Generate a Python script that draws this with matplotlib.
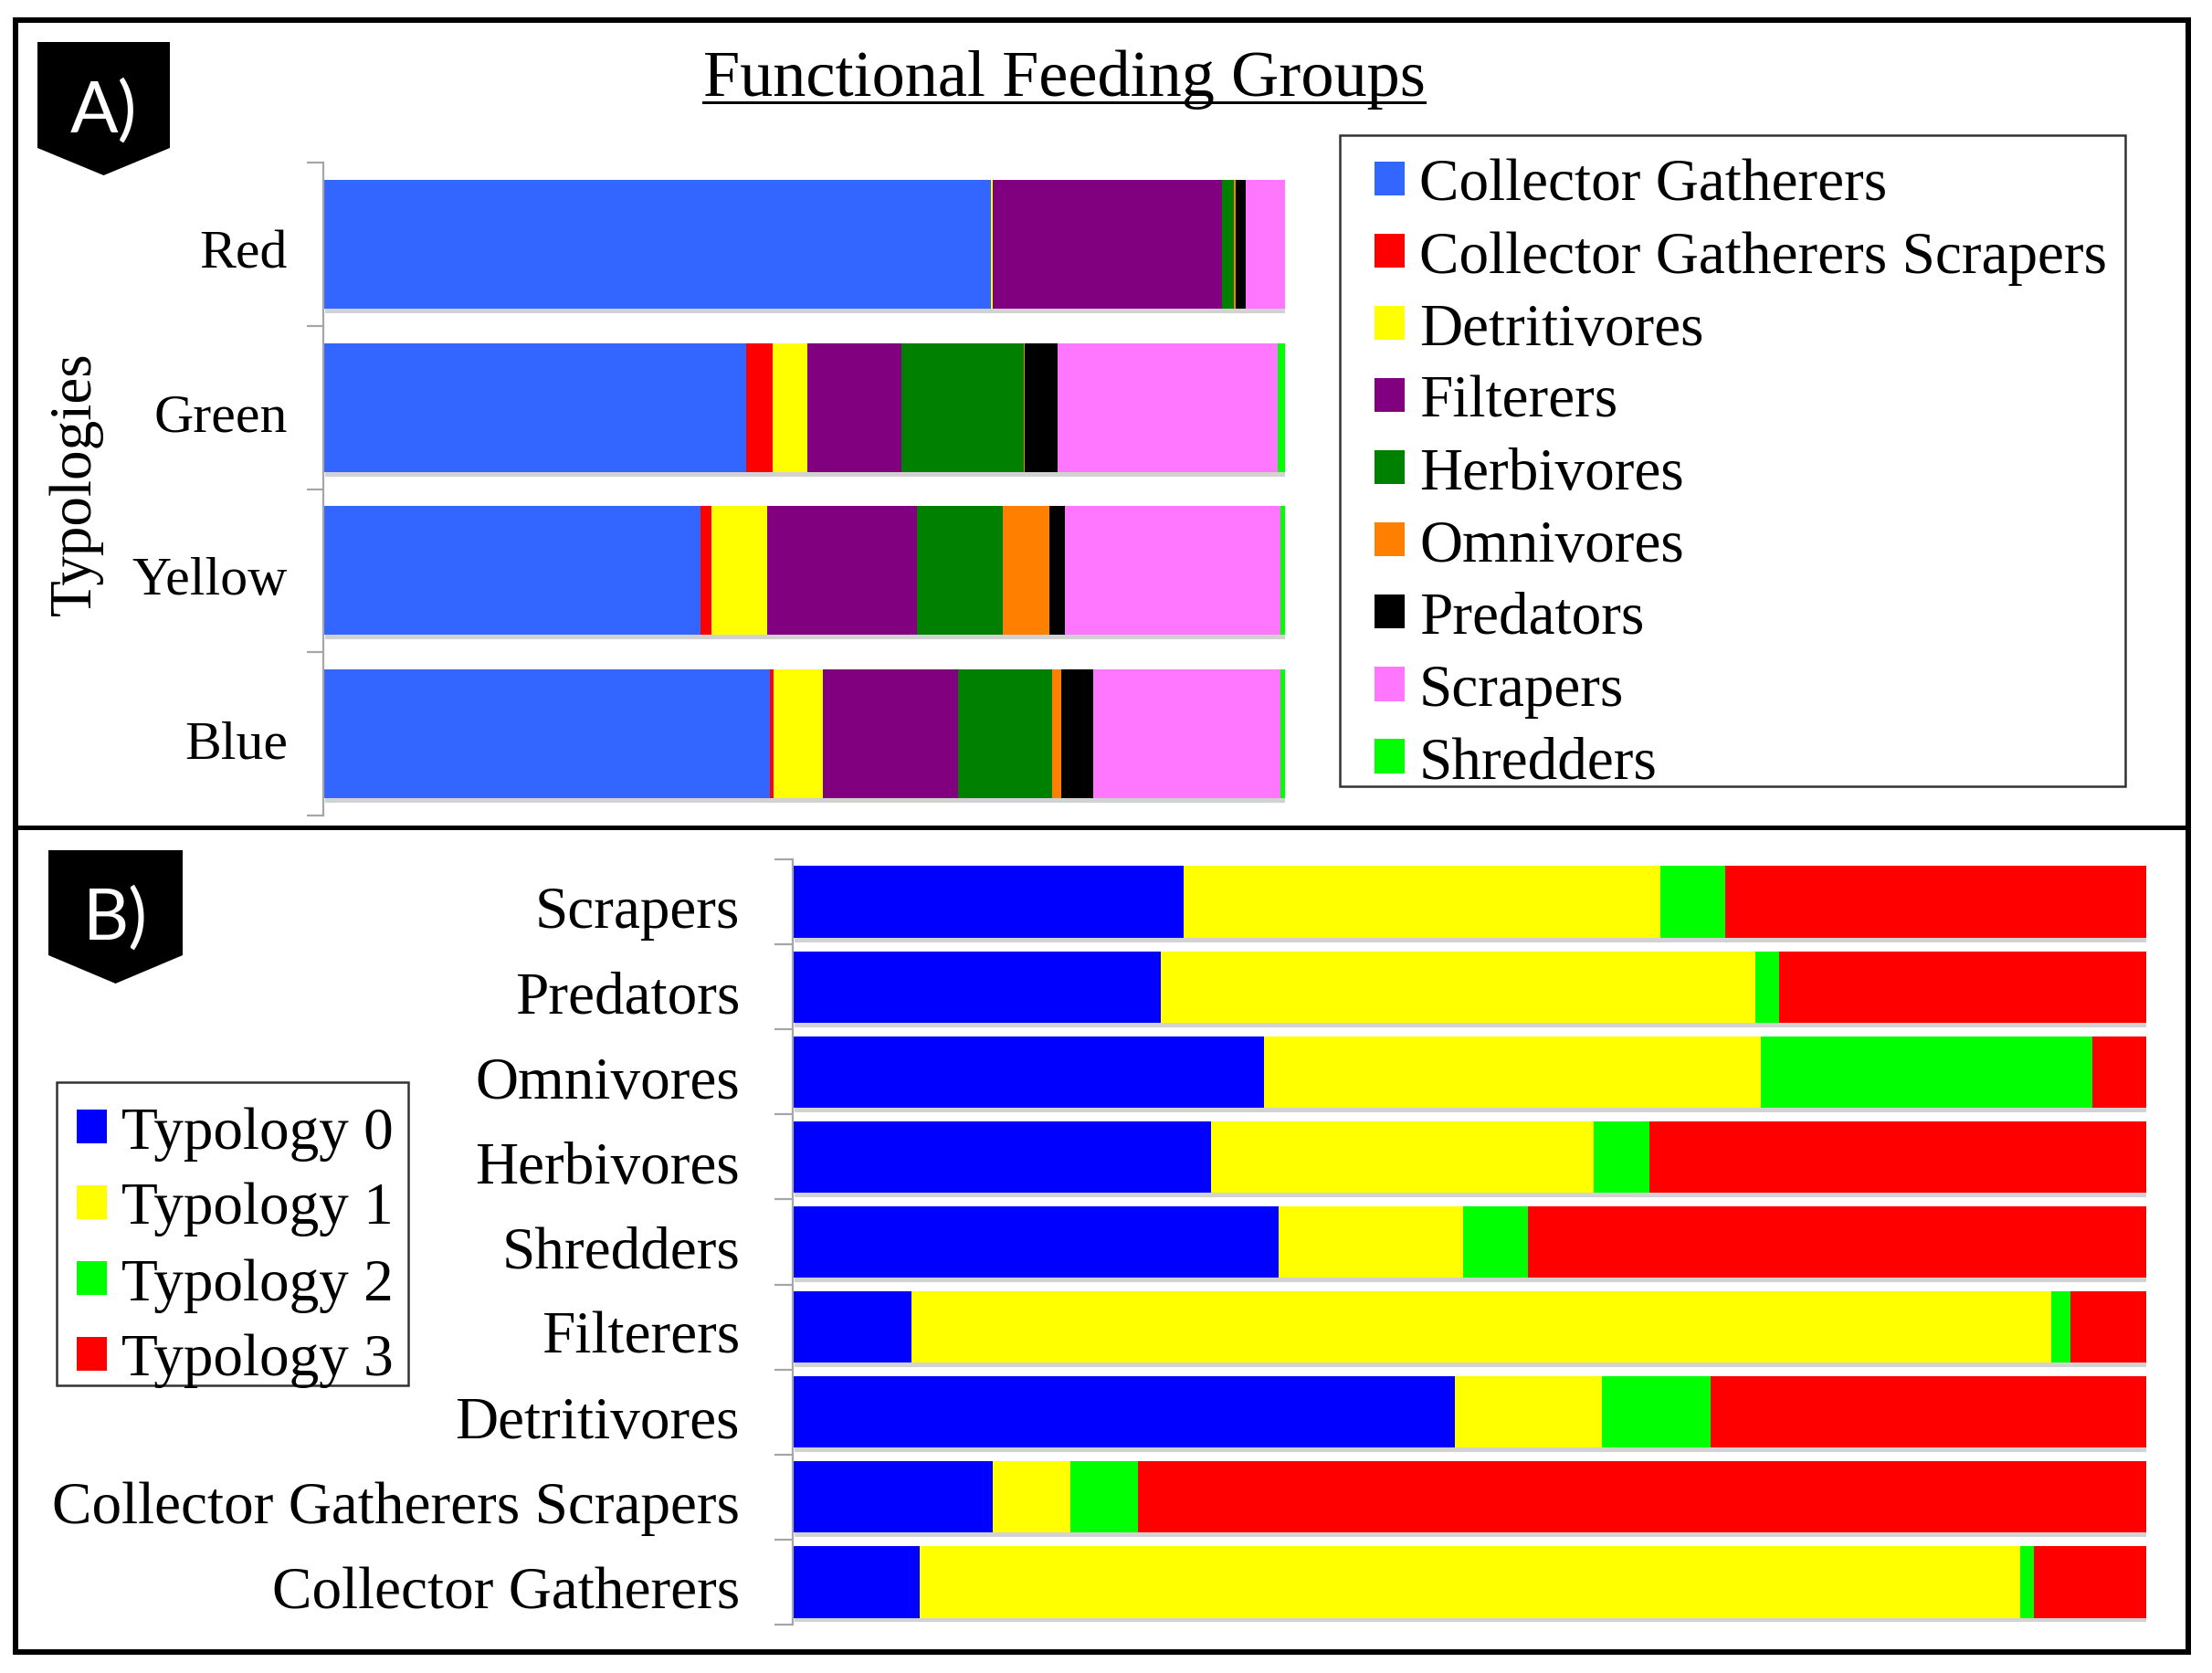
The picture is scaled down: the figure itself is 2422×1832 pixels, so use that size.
import numpy as np
import matplotlib
matplotlib.use("Agg")
import matplotlib.pyplot as plt
import matplotlib.patheffects as pe
from matplotlib.patches import Polygon, Rectangle
from matplotlib.lines import Line2D
from matplotlib.transforms import ScaledTranslation

# ---- data (percent of each bar) ----
typologies = ["Red", "Green", "Yellow", "Blue"]
feeding_groups = ["Collector Gatherers", "Collector Gatherers Scrapers", "Detritivores",
                  "Filterers", "Herbivores", "Omnivores", "Predators", "Scrapers", "Shredders"]
group_colors = ["#3366FF", "#FF0000", "#FFFF00", "#800080", "#008000",
                "#FF8000", "#000000", "#FF77FF", "#00FF00"]
ffg_share = {
    "Red":    [69.4, 0.0, 0.2, 23.8, 1.3, 0.2, 1.0, 4.1, 0.0],
    "Green":  [44.0, 2.7, 3.6, 9.8, 12.7, 0.1, 3.5, 22.8, 0.8],
    "Yellow": [39.2, 1.2, 5.8, 15.5, 9.0, 4.8, 1.6, 22.4, 0.5],
    "Blue":   [46.4, 0.4, 5.1, 14.1, 9.8, 0.9, 3.4, 19.4, 0.5],
}

b_groups = ["Scrapers", "Predators", "Omnivores", "Herbivores", "Shredders", "Filterers",
            "Detritivores", "Collector Gatherers Scrapers", "Collector Gatherers"]
typology_names = ["Typology 0", "Typology 1", "Typology 2", "Typology 3"]
typology_colors = ["#0000FF", "#FFFF00", "#00FF00", "#FF0000"]
typ0 = [28.9, 27.2, 34.8, 30.9, 35.9, 8.8, 48.9, 14.8, 9.4]
typ1 = [35.2, 43.9, 36.7, 28.3, 13.6, 84.2, 10.9, 5.7, 81.3]
typ2 = [4.8, 1.8, 24.5, 4.1, 4.8, 1.4, 8.0, 5.0, 1.0]
typ3 = [31.1, 27.1, 4.0, 36.7, 45.7, 5.6, 32.2, 74.5, 8.3]

W, H, DPI = 2422, 1833, 100
SERIF = "Liberation Serif"
GRAY = "#A6A6A6"


def fx(px):
    return px / W


def fy(py):
    return 1 - py / H


def pt(px):
    return px * 72 / DPI


shadow = [pe.SimplePatchShadow(offset=(1.5, -3.5), shadow_rgbFace="#7f7f7f", alpha=0.35),
          pe.Normal()]

fig = plt.figure(figsize=(W / DPI, H / DPI), dpi=DPI)
fig.patch.set_facecolor("white")


def style_axis(ax, labels, fontsize, tick_len, pad):
    n = len(labels)
    ax.set_xlim(0, 100)
    ax.set_ylim(n - 0.5, -0.5)
    ax.set_yticks(np.arange(n))
    ax.set_yticklabels(labels, fontsize=fontsize, family=SERIF)
    ax.set_yticks(np.arange(-0.5, n), minor=True)
    ax.tick_params(axis="y", which="major", length=0, pad=pad)
    ax.tick_params(axis="y", which="minor", length=pt(tick_len), width=pt(2.2), color=GRAY)
    ax.xaxis.set_visible(False)
    for s in ["top", "right", "bottom"]:
        ax.spines[s].set_visible(False)
    ax.spines["left"].set_color(GRAY)
    ax.spines["left"].set_linewidth(pt(2.2))
    ax.set_facecolor("none")
    # nudge labels down a little, like the original
    shift = ScaledTranslation(0, -5 / DPI, fig.dpi_scale_trans)
    for lab in ax.get_yticklabels():
        lab.set_transform(lab.get_transform() + shift)


def make_legend(handles, labels, frame, x0, ytop, size, spacing):
    # entries placed at (x0, ytop); the box is drawn separately so its padding can differ per side
    leg = fig.legend(handles, labels, loc="upper left",
                     bbox_to_anchor=(fx(x0), fy(ytop)),
                     borderaxespad=0, prop={"family": SERIF, "size": size},
                     handlelength=0.5, handleheight=0.5, handletextpad=0.25,
                     labelspacing=spacing, borderpad=0, frameon=False)
    for h in leg.legend_handles:
        h.set_path_effects([])
    fx0, fy0, fx1, fy1 = frame
    fig.patches.append(Rectangle((fx(fx0), fy(fy1)), fx(fx1) - fx(fx0), (fy1 - fy0) / H,
                                 fill=False, edgecolor="#333333", linewidth=pt(2.5),
                                 transform=fig.transFigure))
    return leg


# ---- Panel A ----
axA = fig.add_axes([fx(354), fy(894), fx(1407) - fx(354), (894 - 179) / H])
ya = np.arange(len(typologies))
left = np.zeros(len(typologies))
for gi, (name, col) in enumerate(zip(feeding_groups, group_colors)):
    vals = np.array([ffg_share[t][gi] for t in typologies])
    axA.barh(ya, vals, left=left, height=0.79, color=col, label=name,
             linewidth=0, path_effects=shadow)
    left += vals
style_axis(axA, typologies, 43, 18, pt(39))

fig.text(fx(83), fy(530), "Typologies", rotation=90, ha="center", va="center",
         fontsize=47, family=SERIF)

title = fig.text(fx(1165), fy(105), "Functional Feeding Groups", ha="center",
                 va="baseline", fontsize=52, family=SERIF)

hA, lA = axA.get_legend_handles_labels()
make_legend(hA, lA, (1467, 149, 2327, 862), 1505, 174, 47, 0.3)

# ---- Panel B ----
axB = fig.add_axes([fx(868), fy(1780), fx(2350) - fx(868), (1780 - 942) / H])
yb = np.arange(len(b_groups))
left = np.zeros(len(b_groups))
for vals, name, col in zip([typ0, typ1, typ2, typ3], typology_names, typology_colors):
    vals = np.array(vals)
    axB.barh(yb, vals, left=left, height=0.84, color=col, label=name,
             linewidth=0, path_effects=shadow)
    left += vals
style_axis(axB, b_groups, 47, 20, pt(58))

hB, lB = axB.get_legend_handles_labels()
make_legend(hB, lB, (62, 1186, 447, 1518), 84, 1212, 47, 0.36)

# ---- panel badges ----
for (x0, x1, ytop, ybot, ytip), lab, base in [((41, 186, 47, 163, 193), "A)", 145),
                                              ((53, 200, 932, 1047, 1078), "B)", 1029)]:
    pts = [(fx(x0), fy(ytop)), (fx(x1), fy(ytop)), (fx(x1), fy(ybot)),
           (fx((x0 + x1) / 2), fy(ytip)), (fx(x0), fy(ybot))]
    fig.patches.append(Polygon(pts, closed=True, facecolor="black", edgecolor="none",
                               transform=fig.transFigure))
    fig.text(fx((x0 + x1) / 2), fy(base), lab, ha="center", va="baseline",
             color="white", fontsize=56, family="Lato")

# ---- frame and divider ----
fig.patches.append(Rectangle((fx(17), fy(1810)), fx(2396) - fx(17), (1810 - 23) / H,
                             fill=False, edgecolor="black", linewidth=pt(6),
                             transform=fig.transFigure))
fig.lines.append(Line2D([fx(17), fx(2396)], [fy(907), fy(907)], color="black",
                        linewidth=pt(5), transform=fig.transFigure))

# underline the title
fig.canvas.draw()
bb = title.get_window_extent().transformed(fig.transFigure.inverted())
fig.lines.append(Line2D([bb.x0, bb.x1], [fy(113), fy(113)], color="black",
                        linewidth=pt(3), transform=fig.transFigure))

fig.savefig("out.png", dpi=DPI)
